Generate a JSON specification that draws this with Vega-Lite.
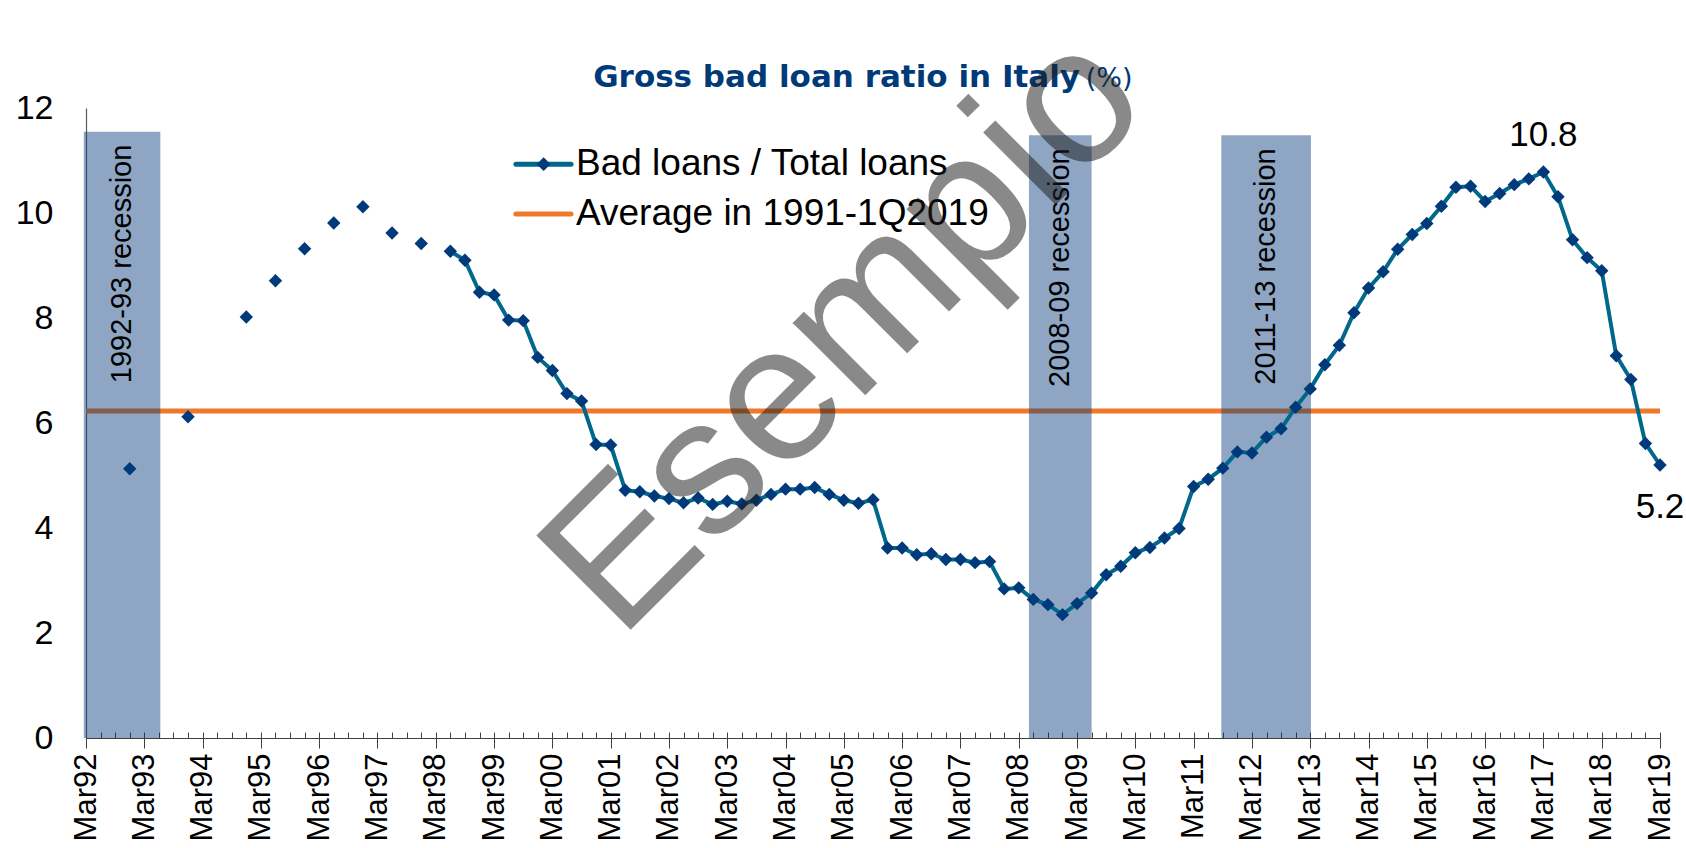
{
  "$schema": "https://vega.github.io/schema/vega-lite/v6.json",
  "autosize": {"type": "none"},
  "width": 1574,
  "height": 630,
  "padding": {"left": 86, "top": 108, "right": 26, "bottom": 110},
  "background": "white",
  "config": {
    "view": {"stroke": null},
    "font": "Liberation Sans",
    "text": {"font": "Liberation Sans", "color": "black"}
  },
  "data": {"values": [{}]},
  "datasets": {
    "loans": [
      {"q": 3, "v": 5.13}, {"q": 4, "v": null},
      {"q": 7, "v": 6.12}, {"q": 8, "v": null},
      {"q": 11, "v": 8.02}, {"q": 12, "v": null},
      {"q": 13, "v": 8.71}, {"q": 14, "v": null},
      {"q": 15, "v": 9.32}, {"q": 16, "v": null},
      {"q": 17, "v": 9.81}, {"q": 18, "v": null},
      {"q": 19, "v": 10.12}, {"q": 20, "v": null},
      {"q": 21, "v": 9.62}, {"q": 22, "v": null},
      {"q": 23, "v": 9.42}, {"q": 24, "v": null},
      {"q": 25, "v": 9.27}, {"q": 26, "v": 9.10}, {"q": 27, "v": 8.49}, {"q": 28, "v": 8.44},
      {"q": 29, "v": 7.96}, {"q": 30, "v": 7.95}, {"q": 31, "v": 7.25}, {"q": 32, "v": 7.00},
      {"q": 33, "v": 6.56}, {"q": 34, "v": 6.42}, {"q": 35, "v": 5.59}, {"q": 36, "v": 5.58},
      {"q": 37, "v": 4.72}, {"q": 38, "v": 4.69}, {"q": 39, "v": 4.61}, {"q": 40, "v": 4.56},
      {"q": 41, "v": 4.48}, {"q": 42, "v": 4.57}, {"q": 43, "v": 4.45}, {"q": 44, "v": 4.51},
      {"q": 45, "v": 4.46}, {"q": 46, "v": 4.53}, {"q": 47, "v": 4.64}, {"q": 48, "v": 4.74},
      {"q": 49, "v": 4.74}, {"q": 50, "v": 4.77}, {"q": 51, "v": 4.64}, {"q": 52, "v": 4.53},
      {"q": 53, "v": 4.47}, {"q": 54, "v": 4.54}, {"q": 55, "v": 3.62}, {"q": 56, "v": 3.62},
      {"q": 57, "v": 3.49}, {"q": 58, "v": 3.51}, {"q": 59, "v": 3.40}, {"q": 60, "v": 3.40},
      {"q": 61, "v": 3.34}, {"q": 62, "v": 3.36}, {"q": 63, "v": 2.84}, {"q": 64, "v": 2.86},
      {"q": 65, "v": 2.64}, {"q": 66, "v": 2.54}, {"q": 67, "v": 2.35}, {"q": 68, "v": 2.56},
      {"q": 69, "v": 2.76}, {"q": 70, "v": 3.11}, {"q": 71, "v": 3.27}, {"q": 72, "v": 3.53},
      {"q": 73, "v": 3.63}, {"q": 74, "v": 3.81}, {"q": 75, "v": 3.99}, {"q": 76, "v": 4.79},
      {"q": 77, "v": 4.93}, {"q": 78, "v": 5.14}, {"q": 79, "v": 5.45}, {"q": 80, "v": 5.43},
      {"q": 81, "v": 5.73}, {"q": 82, "v": 5.89}, {"q": 83, "v": 6.30}, {"q": 84, "v": 6.65},
      {"q": 85, "v": 7.11}, {"q": 86, "v": 7.48}, {"q": 87, "v": 8.10}, {"q": 88, "v": 8.57},
      {"q": 89, "v": 8.88}, {"q": 90, "v": 9.31}, {"q": 91, "v": 9.59}, {"q": 92, "v": 9.80},
      {"q": 93, "v": 10.13}, {"q": 94, "v": 10.49}, {"q": 95, "v": 10.51}, {"q": 96, "v": 10.22},
      {"q": 97, "v": 10.37}, {"q": 98, "v": 10.54}, {"q": 99, "v": 10.65}, {"q": 100, "v": 10.78},
      {"q": 101, "v": 10.31}, {"q": 102, "v": 9.49}, {"q": 103, "v": 9.15}, {"q": 104, "v": 8.90},
      {"q": 105, "v": 7.28}, {"q": 106, "v": 6.83}, {"q": 107, "v": 5.61}, {"q": 108, "v": 5.20}
    ],
    "recessions": [
      {"label": "1992-93 recession", "start": -0.15, "end": 5.1, "mid": 2.5, "top": 11.55},
      {"label": "2008-09 recession", "start": 64.7, "end": 69.0, "mid": 66.85, "top": 11.48},
      {"label": "2011-13 recession", "start": 77.9, "end": 84.05, "mid": 80.95, "top": 11.48}
    ]
  },
  "resolve": {"axis": {"x": "independent"}},
  "layer": [
    {
      "mark": {"type": "rule", "color": "#F0782A", "strokeWidth": 5},
      "encoding": {"y": {"datum": 6.23, "type": "quantitative", "scale": {"domain": [0, 12], "nice": false, "zero": true},
          "axis": {
            "title": null,
            "values": [0, 2, 4, 6, 8, 10, 12],
            "ticks": false,
            "labelPadding": 33,
            "labelFontSize": 34,
            "labelFont": "Liberation Sans",
            "labelColor": "black",
            "domainColor": "#595959",
            "domainWidth": 1.2,
            "grid": false
          }}}
    },
    {
      "data": {"name": "recessions"},
      "mark": {"type": "rect", "color": "#043A7C", "opacity": 0.45},
      "encoding": {
        "x": {
          "field": "start", "type": "quantitative", "title": null,
          "scale": {"domain": [0, 108], "nice": false, "zero": false},
          "axis": {
            "title": null,
            "orient": "bottom",
            "values": [0,4,8,12,16,20,24,28,32,36,40,44,48,52,56,60,64,68,72,76,80,84,88,92,96,100,104,108],
            "labelExpr": "'Mar' + (((92 + datum.value / 4) % 100) < 10 ? '0' : '') + ((92 + datum.value / 4) % 100)",
            "labelAngle": 270,
            "labelFontSize": 31,
            "labelFont": "Liberation Sans",
            "labelColor": "black",
            "labelPadding": 5,
            "labelOverlap": false,
            "labelBound": false,
            "labelFlush": false,
            "tickSize": 10,
            "tickColor": "#404040",
            "tickWidth": 1,
            "domainColor": "#404040",
            "domainWidth": 1.2,
            "grid": false
          }
        },
        "x2": {"field": "end"},
        "y": {"field": "top", "type": "quantitative", "title": null},
        "y2": {"datum": 0}
      }
    },
    {
      "data": {"name": "recessions"},
      "mark": {"type": "text", "angle": 270, "align": "right", "baseline": "middle", "fontSize": 29, "dx": -13, "color": "black"},
      "encoding": {
        "x": {"field": "mid", "type": "quantitative", "title": null, "axis": null},
        "y": {"field": "top", "type": "quantitative", "title": null},
        "text": {"field": "label"}
      }
    },
    {
      "data": {"name": "loans"},
      "mark": {"type": "line", "color": "#00688B", "strokeWidth": 4},
      "encoding": {
        "x": {"field": "q", "type": "quantitative", "title": null,
          "axis": {
            "title": null,
            "orient": "top",
            "offset": -630,
            "values": [0,1,2,3,4,5,6,7,8,9,10,11,12,13,14,15,16,17,18,19,20,21,22,23,24,25,26,27,28,29,30,31,32,33,34,35,36,37,38,39,40,41,42,43,44,45,46,47,48,49,50,51,52,53,54,55,56,57,58,59,60,61,62,63,64,65,66,67,68,69,70,71,72,73,74,75,76,77,78,79,80,81,82,83,84,85,86,87,88,89,90,91,92,93,94,95,96,97,98,99,100,101,102,103,104,105,106,107,108],
            "labels": false,
            "domain": false,
            "grid": false,
            "tickSize": 6,
            "tickColor": "#404040",
            "tickWidth": 1
          }},
        "y": {"field": "v", "type": "quantitative", "title": null}
      }
    },
    {
      "data": {"name": "loans"},
      "mark": {"type": "point", "shape": "diamond", "filled": true, "size": 180, "color": "#003A7A", "opacity": 1},
      "encoding": {
        "x": {"field": "q", "type": "quantitative", "title": null, "axis": null},
        "y": {"field": "v", "type": "quantitative", "title": null}
      }
    },
    {
      "data": {"name": "loans"},
      "transform": [{"filter": "datum.q === 100"}],
      "mark": {"type": "text", "fontSize": 35, "align": "center", "baseline": "alphabetic", "dy": -26},
      "encoding": {
        "x": {"field": "q", "type": "quantitative", "title": null, "axis": null},
        "y": {"field": "v", "type": "quantitative", "title": null},
        "text": {"field": "v", "format": ".1f"}
      }
    },
    {
      "data": {"name": "loans"},
      "transform": [{"filter": "datum.q === 108"}],
      "mark": {"type": "text", "fontSize": 35, "align": "center", "baseline": "alphabetic", "dy": 53},
      "encoding": {
        "x": {"field": "q", "type": "quantitative", "title": null, "axis": null},
        "y": {"field": "v", "type": "quantitative", "title": null},
        "text": {"field": "v", "format": ".1f"}
      }
    },
    {
      "mark": {"type": "rule", "color": "#00688B", "strokeWidth": 5, "strokeCap": "round"},
      "encoding": {"x": {"datum": 29.5, "axis": null}, "x2": {"datum": 33.28}, "y": {"datum": 10.93}}
    },
    {
      "mark": {"type": "point", "shape": "diamond", "filled": true, "size": 190, "color": "#003A7A", "opacity": 1},
      "encoding": {"x": {"datum": 31.4, "axis": null}, "y": {"datum": 10.93}}
    },
    {
      "mark": {"type": "text", "align": "left", "baseline": "middle", "fontSize": 37, "color": "black"},
      "encoding": {"x": {"datum": 33.62, "axis": null}, "y": {"datum": 10.93}, "text": {"value": "Bad loans / Total loans"}}
    },
    {
      "mark": {"type": "rule", "color": "#F0782A", "strokeWidth": 5, "strokeCap": "round"},
      "encoding": {"x": {"datum": 29.5, "axis": null}, "x2": {"datum": 33.28}, "y": {"datum": 9.98}}
    },
    {
      "mark": {"type": "text", "align": "left", "baseline": "middle", "fontSize": 37, "color": "black"},
      "encoding": {"x": {"datum": 33.62, "axis": null}, "y": {"datum": 9.98}, "text": {"value": "Average in 1991-1Q2019"}}
    },
    {
      "mark": {"type": "text", "align": "center", "baseline": "alphabetic", "fontSize": 31, "font": "DejaVu Sans", "fontWeight": "bold", "color": "#003A78"},
      "encoding": {"x": {"datum": 51.5, "axis": null}, "y": {"datum": 12.4}, "text": {"value": "Gross bad loan ratio in Italy"}}
    },
    {
      "mark": {"type": "text", "align": "left", "baseline": "alphabetic", "fontSize": 27, "font": "DejaVu Sans", "color": "#003A78"},
      "encoding": {"x": {"datum": 68.6, "axis": null}, "y": {"datum": 12.4}, "text": {"value": "(%)"}}
    },
    {
      "mark": {"type": "text", "align": "center", "baseline": "middle", "fontSize": 194, "angle": 315, "color": "#1E1E1E", "opacity": 0.52},
      "encoding": {"x": {"datum": 52.1, "axis": null}, "y": {"datum": 7.71}, "text": {"value": "Esempio"}}
    }
  ]
}
